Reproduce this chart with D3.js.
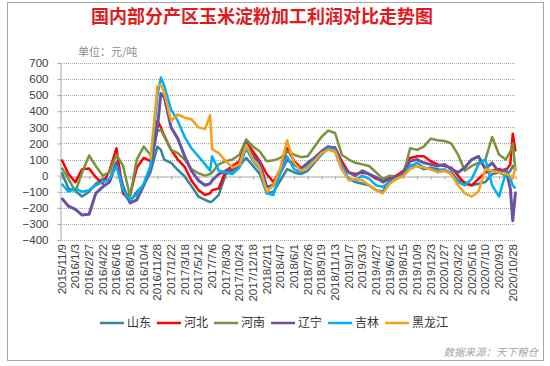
<!DOCTYPE html>
<html>
<head>
<meta charset="utf-8">
<script src="https://cdn.jsdelivr.net/npm/d3@7"></script>
<style>
  body { margin: 0; background: #fff; }
  svg { display: block; }
</style>
</head>
<body>
<script>
// sample dates (one every ~4 weeks, plus a few extra around sharp moves)
var dates = ["2015/11/9","2015/12/6","2016/1/3","2016/1/30","2016/2/27","2016/3/25","2016/4/22","2016/5/19",
  "2016/6/16","2016/7/13","2016/8/10","2016/9/6","2016/10/4","2016/10/31","2016/11/28","2016/12/12","2016/12/25",
  "2017/1/22","2017/2/18","2017/3/18","2017/4/14","2017/5/12","2017/6/8","2017/6/28","2017/7/6","2017/8/2",
  "2017/8/30","2017/9/26","2017/10/24","2017/11/20","2017/12/18","2018/1/14","2018/2/11","2018/3/10","2018/4/7",
  "2018/5/4","2018/6/1","2018/6/28","2018/7/26","2018/8/22","2018/9/19","2018/10/16","2018/11/13","2018/12/10",
  "2019/1/7","2019/2/3","2019/3/3","2019/3/30","2019/4/27","2019/5/24","2019/6/21","2019/7/18","2019/8/15",
  "2019/9/11","2019/10/9","2019/11/5","2019/12/3","2019/12/30","2020/1/27","2020/2/23","2020/3/22","2020/4/18",
  "2020/5/16","2020/6/12","2020/7/10","2020/8/6","2020/9/3","2020/9/30","2020/10/18","2020/10/28","2020/11/8"];

var tickLabels = ["2015/11/9","2016/1/3","2016/2/27","2016/4/22","2016/6/16","2016/8/10","2016/10/4","2016/11/28",
  "2017/1/22","2017/3/18","2017/5/12","2017/7/6","2017/8/30","2017/10/24","2017/12/18","2018/2/11","2018/4/7",
  "2018/6/1","2018/7/26","2018/9/19","2018/11/13","2019/1/7","2019/3/3","2019/4/27","2019/6/21","2019/8/15",
  "2019/10/9","2019/12/3","2020/1/27","2020/3/22","2020/5/16","2020/7/10","2020/9/3","2020/10/28"];

var yTicks = [-400,-300,-200,-100,0,100,200,300,400,500,600,700];

// profit, yuan/ton
var shandong = [20,-80,-95,-130,-100,-50,-20,-30,80,-110,-160,-100,-60,20,180,160,100,80,35,-5,-65,-130,-150,-165,-160,
  -120,10,30,60,110,60,10,-110,-100,-30,40,20,10,30,80,130,170,150,40,-20,-40,-50,-60,-90,-100,-30,-20,0,60,60,40,
  50,40,30,20,-30,-40,-60,-50,-40,10,20,0,30,60,40];
var hebei = [100,10,-40,40,45,-10,-50,30,170,-110,-120,50,110,90,340,300,250,160,100,55,-30,-90,-120,-110,-90,
  -80,30,60,90,210,150,90,10,-40,40,170,90,50,60,110,140,170,175,90,20,10,20,10,-20,-30,-10,0,30,110,120,120,
  90,70,60,50,0,-50,-60,-20,20,30,40,30,70,260,150];
var henan = [50,-20,-100,20,125,60,0,20,130,60,-130,100,180,130,275,285,244,160,140,100,40,15,0,10,20,
  70,90,100,130,225,180,150,90,95,110,150,130,115,120,180,240,280,265,130,100,80,70,60,20,-20,0,-10,10,170,160,180,
  230,220,215,200,130,30,60,80,100,240,130,100,150,200,30];
var liaoning = [-140,-190,-210,-245,-240,-110,-70,-40,80,-70,-170,-150,-60,50,300,510,490,300,230,120,30,-30,-60,-50,-30,
  10,30,40,60,200,120,80,-70,-60,20,100,70,40,80,110,150,180,170,60,20,0,30,10,-10,-40,-20,-10,20,90,100,80,
  70,60,70,40,20,50,100,120,40,80,20,40,-80,-280,-100];
var jilin = [-50,-100,-80,-100,-90,-60,-40,-20,60,-90,-150,-120,-50,60,500,610,560,410,340,240,170,120,70,30,120,
  30,20,10,50,170,90,40,-110,-120,20,120,40,20,60,100,130,170,160,60,-20,-30,0,-20,-60,-70,-40,-20,0,60,80,50,
  40,30,40,10,-40,-60,-20,70,100,-60,-130,20,-20,-60,-80];
var heilongjiang = [null,null,null,null,null,null,null,null,null,null,null,null,null,100,555,565,520,340,380,360,350,300,290,375,165,
  140,90,50,70,190,100,50,-100,-60,50,220,80,30,50,90,140,160,150,40,-30,-20,-30,-60,-90,-110,-50,-20,0,40,60,50,
  40,20,30,10,-60,-110,-130,-100,40,30,20,10,0,-20,60];

var seriesNames = ["山东","河北","河南","辽宁","吉林","黑龙江"];
var seriesValues = [shandong, hebei, henan, liaoning, jilin, heilongjiang];
var seriesColors = ["#31859c","#ff0000","#77933c","#6d51a0","#00b0f0","#f6a01a"];

var parse = d3.timeParse("%Y/%m/%d");
var W = 550, H = 366;

var svg = d3.select("body").append("svg")
    .attr("width", W)
    .attr("height", H);

// outer frame
svg.append("rect")
    .attr("x", 7.5).attr("y", 2.5)
    .attr("width", 536).attr("height", 358)
    .attr("fill", "#fff")
    .attr("stroke", "#a6a6a6");

svg.append("text")
    .attr("x", 262).attr("y", 23)
    .attr("text-anchor", "middle")
    .style("font-family", "'Noto Sans CJK SC', sans-serif")
    .style("font-size", "18px")
    .style("font-weight", "bold")
    .style("fill", "#e3191c")
    .text("国内部分产区玉米淀粉加工利润对比走势图");

svg.append("text")
    .attr("x", 78).attr("y", 56)
    .style("font-family", "'Noto Sans CJK SC', sans-serif")
    .style("font-size", "11px")
    .style("fill", "#8c8c8c")
    .text("单位：元/吨");

var x = d3.scaleTime()
    .domain([parse("2015/11/2"), parse("2020/11/10")])
    .range([60, 516]);

var y = d3.scaleLinear()
    .domain([-400, 700])
    .range([240, 63]);

// gridlines
svg.append("g").selectAll("line")
    .data(yTicks.filter(function(d) { return d !== 0; }))
    .enter().append("line")
    .attr("x1", 60).attr("x2", 516)
    .attr("y1", function(d) { return Math.round(y(d)) + 0.5; })
    .attr("y2", function(d) { return Math.round(y(d)) + 0.5; })
    .attr("stroke", "#a6a6a6")
    .attr("stroke-dasharray", "1,1");

// y axis
var yAxis = svg.append("g")
    .attr("transform", "translate(60.5,0)")
    .call(d3.axisLeft(y).tickValues(yTicks).tickSize(3).tickPadding(9));
yAxis.select(".domain").attr("stroke", "#a6a6a6");
yAxis.selectAll(".tick line").attr("stroke", "#a6a6a6");
yAxis.selectAll("text")
    .style("font-family", "'Liberation Sans', Arial, sans-serif")
    .style("font-size", "11.5px")
    .style("fill", "#404040");

// category axis crossing at zero, ticks only
var zeroY = Math.round(y(0)) + 0.5;
var xAxis = svg.append("g")
    .attr("transform", "translate(0," + zeroY + ")")
    .call(d3.axisBottom(x).tickValues(tickLabels.map(parse)).tickSize(3).tickFormat(""));
xAxis.select(".domain").attr("stroke", "#a6a6a6");
xAxis.selectAll(".tick line").attr("stroke", "#a6a6a6");

// date labels at the bottom
svg.append("g").selectAll("text")
    .data(tickLabels)
    .enter().append("text")
    .attr("transform", function(d) { return "translate(" + x(parse(d)) + ",244) rotate(-90)"; })
    .attr("text-anchor", "end")
    .attr("dy", "0.35em")
    .style("font-family", "'Liberation Sans', Arial, sans-serif")
    .style("font-size", "11.5px")
    .style("fill", "#404040")
    .text(function(d) { return d; });

// lines
var line = d3.line()
    .defined(function(d) { return d != null; })
    .x(function(d, i) { return x(parse(dates[i])); })
    .y(function(d) { return y(d); });

svg.append("g").selectAll("path")
    .data(seriesValues)
    .enter().append("path")
    .attr("d", line)
    .attr("fill", "none")
    .attr("stroke", function(d, i) { return seriesColors[i]; })
    .attr("stroke-width", function(d, i) { return i === 3 ? 3 : 2.5; })
    .attr("stroke-linejoin", "round");

// legend
var legend = svg.append("g").attr("transform", "translate(100,323)");
var lx = 0;
seriesNames.forEach(function(name, i) {
  var g = legend.append("g").attr("transform", "translate(" + lx + ",0)");
  g.append("line")
      .attr("x1", 0).attr("x2", 24)
      .attr("stroke", seriesColors[i])
      .attr("stroke-width", 2.5);
  var t = g.append("text")
      .attr("x", 27).attr("dy", "0.35em")
      .style("font-family", "'Noto Sans CJK SC', sans-serif")
      .style("font-size", "12px")
      .style("fill", "#333")
      .text(name);
  lx += 27 + t.node().getComputedTextLength() + 6;
});

svg.append("text")
    .attr("x", 538).attr("y", 356)
    .attr("text-anchor", "end")
    .style("font-family", "'Noto Sans CJK SC', sans-serif")
    .style("font-size", "10.5px")
    .style("font-style", "italic")
    .style("fill", "#a6a6a6")
    .text("数据来源：天下粮仓");
</script>
</body>
</html>
